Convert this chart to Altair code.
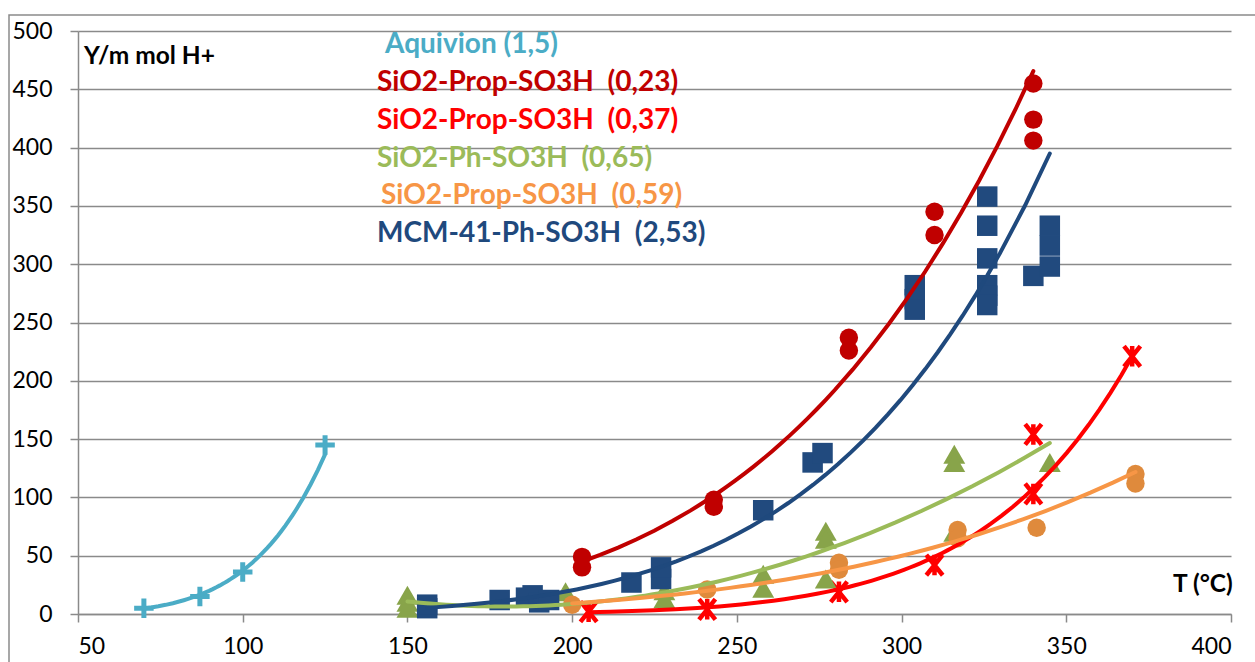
import altair as alt
import pandas as pd

# ---- measured data: T (°C) and Y (m mol H+) for each material ----
AQ_T = [70, 87, 100, 125]
AQ_Y = [5, 15, 36, 145]

P23_T = [203, 203, 243, 243, 284, 284, 310, 310, 340, 340, 340]
P23_Y = [49, 40, 98, 92, 237, 226, 345, 325, 455, 424, 406]

P37_T = [205, 241, 281, 310, 340, 340, 370]
P37_Y = [2, 4, 19, 42, 103, 154, 221]

PH65_T = [150, 150, 150, 198, 228, 228, 258, 258, 277, 277, 277, 316, 316, 316, 345]
PH65_Y = [5, 10, 16, 19, 20, 13, 34, 22, 71, 64, 30, 137, 130, 70, 130]

P59_T = [200, 241, 281, 281, 317, 317, 341, 371, 371]
P59_Y = [8, 21, 44, 38, 72, 65, 74, 120, 112]

MCM_T = [156, 156, 178, 186, 188, 190, 193, 218, 227, 227, 258, 273, 276,
         304, 304, 304, 326, 326, 326, 326, 326, 326, 340, 345, 345, 345]
MCM_Y = [5, 8, 12, 14, 16, 10, 12, 27, 30, 40, 89, 130, 138,
         282, 270, 261, 358, 333, 305, 282, 273, 265, 290, 333, 316, 298]

SERIES = ["Aquivion (1,5)",
          "SiO2-Prop-SO3H\u00a0 (0,23)",
          "SiO2-Prop-SO3H\u00a0 (0,37)",
          "SiO2-Ph-SO3H\u00a0 (0,65)",
          "SiO2-Prop-SO3H\u00a0 (0,59)",
          "MCM-41-Ph-SO3H\u00a0 (2,53)"]
LINE_COLORS = ["#4BACC6", "#C00000", "#FF0000", "#9BBB59", "#F79646", "#1F497D"]
MARK_COLORS = ["#4BACC6", "#C00000", "#FF0000", "#88A44A", "#DF8A3C", "#214A7E"]

X_TICKS = [50, 100, 150, 200, 250, 300, 350, 400]
Y_TICKS = [0, 50, 100, 150, 200, 250, 300, 350, 400, 450, 500]

FONT = "Lato"
GRID = "#8A8A8A"

frames = []
for name, t, y in zip(SERIES, [AQ_T, P23_T, P37_T, PH65_T, P59_T, MCM_T],
                      [AQ_Y, P23_Y, P37_Y, PH65_Y, P59_Y, MCM_Y]):
    frames.append(pd.DataFrame({"series": name, "T": t, "Y": y}))
df = pd.concat(frames, ignore_index=True)

W, H = 1153, 583
x_scale = alt.Scale(domain=[50, 400], nice=False, zero=False)
y_scale = alt.Scale(domain=[0, 500], nice=False)

x_axis = alt.Axis(values=X_TICKS, title=None, grid=False, domainColor=GRID,
                  domainWidth=1.5, tickColor=GRID, tickWidth=1.5, tickSize=8,
                  labelFont=FONT, labelFontSize=23, labelColor="black",
                  labelPadding=13)
y_axis = alt.Axis(values=Y_TICKS, title=None, grid=True, gridColor=GRID,
                  gridWidth=1.5, domainColor=GRID, domainWidth=1.5,
                  tickColor=GRID, tickWidth=1.5, tickSize=8,
                  labelFont=FONT, labelFontSize=23, labelColor="black",
                  labelPadding=18)

base = alt.Chart(df)

PLUS = "M-1,0L1,0M0,-1L0,1"
STAR = "M-0.8,-1L0.8,1M-0.8,1L0.8,-1M0,-1L0,1"


def markers(i, shape, size, filled=True, stroke_width=0):
    if filled:
        mark = base.mark_point(shape=shape, size=size, filled=True,
                               color=MARK_COLORS[i], opacity=1)
    else:
        mark = base.mark_point(shape=shape, size=size, filled=False,
                               stroke=MARK_COLORS[i], strokeWidth=stroke_width,
                               opacity=1)
    return mark.transform_filter(alt.datum.series == SERIES[i]).encode(
        x=alt.X("T:Q", scale=x_scale, axis=x_axis),
        y=alt.Y("Y:Q", scale=y_scale, axis=y_axis),
    )


def trend(i, method, order=None):
    kw = {"method": method}
    if order is not None:
        kw["order"] = order
    return (base.transform_filter(alt.datum.series == SERIES[i])
            .transform_regression("T", "Y", **kw)
            .mark_line(color=LINE_COLORS[i], strokeWidth=4, strokeCap="round")
            .encode(x=alt.X("T:Q", scale=x_scale, axis=x_axis),
                    y=alt.Y("Y:Q", scale=y_scale, axis=y_axis)))


def label(text, x, y, color, size, weight="bold"):
    return alt.Chart(pd.DataFrame({"txt": [text]})).mark_text(
        align="left", baseline="middle", font=FONT, fontSize=size,
        fontWeight=weight, color=color
    ).encode(text="txt:N", x=alt.value(x), y=alt.value(y))


border = alt.Chart(pd.DataFrame({"k": [0]})).mark_rect(
    fillOpacity=0, stroke=GRID, strokeWidth=1.5
).encode(x=alt.value(-69), x2=alt.value(1300), y=alt.value(-16), y2=alt.value(800))

layers = [
    border,
    markers(0, PLUS, 380, filled=False, stroke_width=5),
    markers(1, "circle", 340),
    markers(2, STAR, 420, filled=False, stroke_width=4.5),
    markers(3, "triangle-up", 480),
    markers(4, "circle", 340),
    markers(5, "square", 420),
    trend(0, "pow"),
    trend(1, "pow"),
    trend(2, "pow"),
    trend(3, "poly", 2),
    trend(4, "pow"),
    trend(5, "pow"),
    label("Y/m mol H+", 6, 26, "black", 24.5),
    label("T (°C)", 1095, 554, "black", 24.5),
    label(SERIES[0], 307, 14, LINE_COLORS[0], 28),
    label(SERIES[1], 299, 52, LINE_COLORS[1], 28),
    label(SERIES[2], 299, 90, LINE_COLORS[2], 28),
    label(SERIES[3], 299, 128, LINE_COLORS[3], 28),
    label(SERIES[4], 303, 165, LINE_COLORS[4], 28),
    label(SERIES[5], 299, 203, LINE_COLORS[5], 28),
]

chart = alt.layer(*layers).properties(
    width=W, height=H,
    autosize=alt.AutoSizeParams(type="none"),
    padding={"left": 78, "top": 31, "right": 24, "bottom": 48},
    background="white",
).configure_view(strokeWidth=0)

chart.save("out.html", embed_options={"renderer": "svg", "actions": False})
